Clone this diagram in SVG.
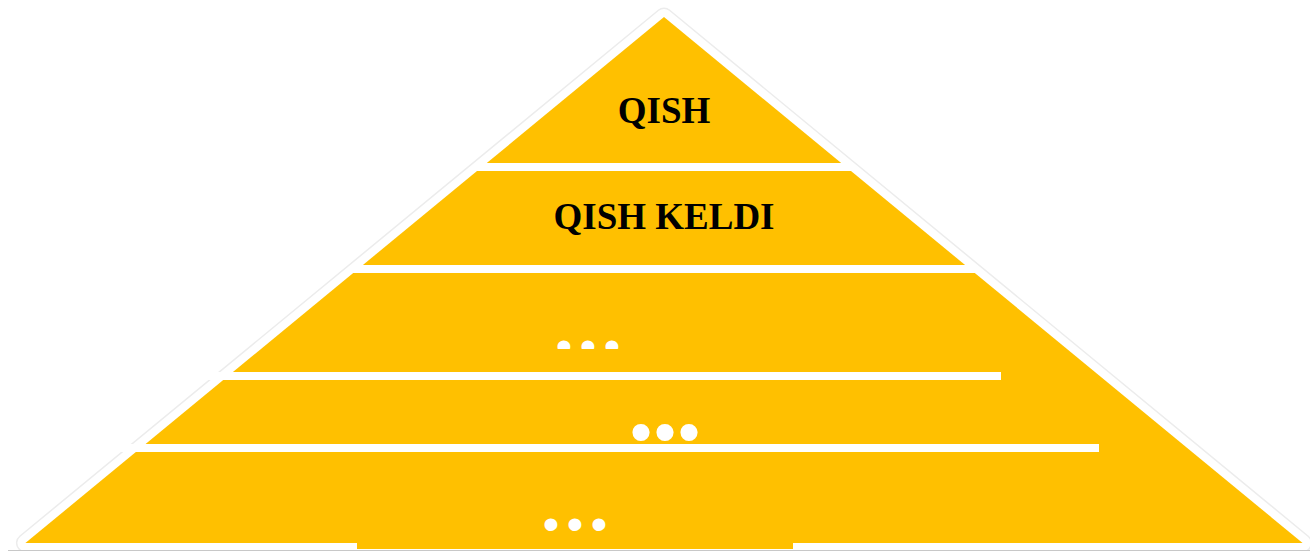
<svg xmlns="http://www.w3.org/2000/svg" width="1310" height="552" viewBox="0 0 1310 552">
<style>
.band{fill:#FFC000}
.gap{fill:#FFFFFF}
.title{font-family:"Liberation Serif","Times New Roman",serif;font-weight:bold;font-size:37px;fill:#000000;text-anchor:middle}
.dots{font-family:"Liberation Sans",Arial,sans-serif;fill:#FFFFFF}
</style>
<defs>
<clipPath id="canvas"><rect x="0" y="0" width="1310" height="550"/></clipPath>
<clipPath id="dotclip"><rect x="500" y="300" width="200" height="49"/></clipPath>
</defs>
<g id="outline" clip-path="url(#canvas)">
<polygon points="664,17 25.4,543 1302.6,543" fill="#FFFFFF" stroke="#ECECEC" stroke-width="19" stroke-linejoin="round"/>
<polygon points="664,17 25.4,543 1302.6,543" fill="#FFFFFF" stroke="#FFFFFF" stroke-width="16" stroke-linejoin="round"/>
</g>
<line x1="8" y1="550.5" x2="1310" y2="550.5" stroke="#C8C8C8" stroke-width="1"/>
<g id="band1">
<polygon class="band" points="664,17 486.8,163 841.2,163"/>
<text class="title" x="664" y="123">QISH</text>
</g>
<g id="band2">
<polygon class="band" points="477,171 851,171 965.1,265 362.9,265"/>
<text class="title" x="664" y="229">QISH KELDI</text>
</g>
<g id="lower">
<polygon class="band" points="353.2,273 974.8,273 1302.6,543 25.4,543"/>
<rect class="band" x="357" y="543" width="436" height="6"/>
<rect class="gap" x="200" y="372" width="801" height="8"/>
<rect class="gap" x="100" y="444" width="999" height="8"/>
</g>
<g id="band3">
<text class="dots" x="555.8" y="362" font-size="47" letter-spacing="7.5" clip-path="url(#dotclip)">•••</text>
</g>
<g id="band4">
<text class="dots" x="630" y="453" font-size="63" letter-spacing="2">•••</text>
</g>
<g id="band5">
<text class="dots" x="542.8" y="540" font-size="47" letter-spacing="7.5">•••</text>
</g>
<g id="connectors"></g>
</svg>
